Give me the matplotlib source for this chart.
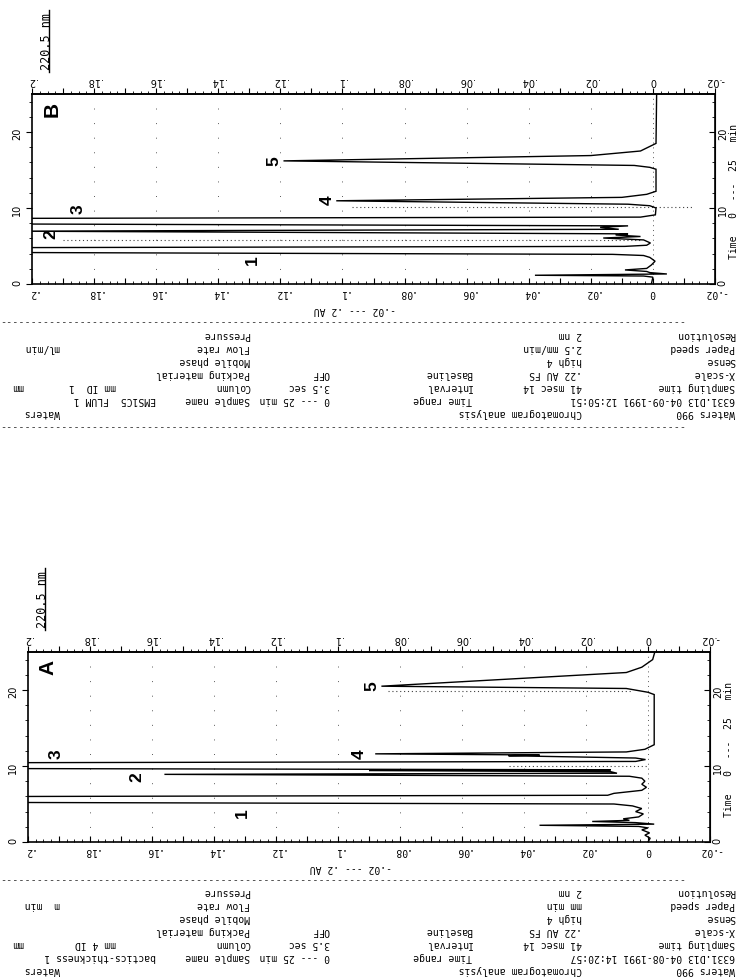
import numpy as np
import matplotlib.pyplot as plt
from matplotlib.ticker import MultipleLocator, FuncFormatter
from matplotlib.lines import Line2D

W, H = 739, 977

# ---------------- data ----------------
# panel B (upper) : time (min) / absorbance (AU)
B_time = [0.0, 0.9, 1.05, 1.15, 1.32, 1.5, 1.65, 1.85, 2.05, 2.5,
          3.0, 3.5, 3.75, 3.9, 4.2, 4.75, 4.95, 5.1, 5.4, 5.8,
          6.05, 6.25, 6.45, 6.6, 6.95, 7.2, 7.45, 7.65, 7.95, 8.6,
          8.8, 9.1, 10.0, 10.3, 10.5, 10.95, 11.4, 11.8, 12.2, 15.1,
          15.35, 15.6, 16.2, 16.9, 17.5, 18.5, 25.0]
B_au = [0.0005, 0.0, 0.003, 0.038, -0.0045, 0.001, 0.002, 0.009, 0.002, 0.0005,
        -0.0007, 0.001, 0.003, 0.013, 0.25, 0.25, 0.009, 0.002, 0.0008, 0.003,
        0.016, 0.004, 0.012, 0.008, 0.205, 0.011, 0.017, 0.008, 0.25, 0.25,
        0.004, -0.0008, -0.001, 0.001, 0.008, 0.102, 0.01, 0.002, -0.001, -0.001,
        0.001, 0.006, 0.119, 0.02, 0.004, -0.001, -0.0012]

# panel A (lower)
A_time = [0.0, 0.5, 0.9, 1.2, 1.6, 1.85, 2.05, 2.2, 2.35, 2.55,
          2.7, 2.85, 3.05, 3.3, 3.7, 4.0, 4.4, 4.75, 5.0, 5.25,
          5.95, 6.15, 6.4, 6.8, 7.2, 7.6, 8.0, 8.4, 8.65, 8.9,
          9.05, 9.25, 9.4, 9.5, 9.7, 10.4, 10.6, 10.85, 11.05, 11.35,
          11.45, 11.6, 11.85, 12.2, 12.8, 19.4, 19.7, 20.2, 20.5, 22.3,
          23.0, 24.0, 25.0]
A_au = [0.0, -0.0007, 0.001, -0.0005, 0.002, 0.0, 0.003, 0.035, -0.002, 0.004,
        0.018, 0.006, 0.008, 0.003, 0.0015, 0.004, 0.002, 0.005, 0.011, 0.25,
        0.25, 0.013, 0.011, 0.002, 0.0005, 0.002, 0.001, 0.002, 0.006, 0.156,
        0.01, 0.012, 0.09, 0.012, 0.25, 0.25, 0.004, 0.0008, 0.004, 0.045,
        0.035, 0.088, 0.007, 0.001, -0.002, -0.002, 0.0, 0.007, 0.086, 0.007,
        0.002, -0.0015, -0.0022]

peak_names = ['1', '2', '3', '4', '5']
B_label_t = [3.2, 6.5, 9.8, 11.0, 16.2]
B_label_au = [0.129, 0.194, 0.185, 0.105, 0.122]
A_label_t = [3.8, 8.6, 11.5, 11.6, 20.5]
A_label_au = [0.131, 0.165, 0.191, 0.093, 0.089]

# dotted peak marks printed by the integrator
B_mark_t = [5.8, 10.15]
B_mark_from = [0.19, 0.097]
B_mark_to = [0.004, -0.013]
A_mark_t = [19.9, 9.95]
A_mark_from = [0.084, 0.045]
A_mark_to = [0.005, 0.0]

# header block, rows in print order (the page is printed upside down,
# so the first row ends up at the bottom of each block)
B_rows = [
    ['Waters 990', 'Chromatogram analysis', '', '', '', '', '', 'Waters', ''],
    ['6331.D13 04-09-1991 12:50:51', '', 'Time range', '0 --- 25 min', 'Sample name',
     'EMS1C5  FLUM 1', '', '', ''],
    ['Sampling time', '41 msec 14', 'Interval', '3.5 sec', 'Column', '', 'mm ID  1', '', 'mm'],
    ['X-scale', '.22 AU FS', 'Baseline', 'OFF', 'Packing material', '', '', '', ''],
    ['Sense', 'high 4', '', '', 'Mobile phase', '', '', '', ''],
    ['Paper speed', '2.5 mm/min', '', '', 'Flow rate', '', '', 'ml/min', ''],
    ['Resolution', '2 nm', '', '', 'Pressure', '', '', '', ''],
]
A_rows = [
    ['Waters 990', 'Chromatogram analysis', '', '', '', '', '', 'Waters', ''],
    ['6331.D13 04-08-1991 14:20:57', '', 'Time range', '0 --- 25 min', 'Sample name',
     'bactics-thickness 1', '', '', ''],
    ['Sampling time', '41 msec 14', 'Interval', '3.5 sec', 'Column', '', 'mm 4 ID', '', 'mm'],
    ['X-scale', '.22 AU FS', 'Baseline', 'OFF', 'Packing material', '', '', '', ''],
    ['Sense', 'high 4', '', '', 'Mobile phase', '', '', '', ''],
    ['Paper speed', 'mm min', '', '', 'Flow rate', '', '', 'm  min', ''],
    ['Resolution', '2 nm', '', '', 'Pressure', '', '', '', ''],
]

# ---------------- layout ----------------
fig = plt.figure(figsize=(W / 100, H / 100), dpi=100)
mono = 'DejaVu Sans Mono'
col_x = [735, 582, 472, 330, 250, 156, 116, 60, 24]


def put(x, y, s, **kw):
    return fig.text(x / W, 1 - y / H, s, **kw)


def au_fmt(v, pos):
    k = int(round(v / 0.01))
    if k % 2:
        return ''
    if k == 0:
        return '0'
    s = ('%.2f' % (k / 100)).rstrip('0')
    return s.replace('0.', '.', 1)


def panel(left, right, top, bottom, t, au, lab_t, lab_au, mark_t, mark_a, mark_b,
          letter, rows, row0):
    ax = fig.add_axes([left / W, 1 - bottom / H, (right - left) / W, (bottom - top) / H])
    ax.set_xlim(0.2, -0.02)
    ax.set_ylim(0, 25)
    for sp in ax.spines.values():
        sp.set_linewidth(1.2)

    # dotted grid at the labelled AU values
    for g in np.arange(0.18, -0.001, -0.02):
        dens = (0, (1, 4)) if abs(g) < 1e-6 else (0, (1, 14))
        ax.axvline(g, color='0.35', lw=0.7, ls=dens, zorder=1)
    for mt, ma, mb in zip(mark_t, mark_a, mark_b):
        ax.plot([ma, mb], [mt, mt], color='0.25', lw=0.8, ls=(0, (1, 2.5)), zorder=1)

    ax.plot(au, t, color='black', lw=1.0, solid_joinstyle='miter', zorder=3)

    for name, lt, la in zip(peak_names, lab_t, lab_au):
        ax.text(la, lt, name, rotation=90, ha='center', va='center',
                family='Liberation Sans', weight='bold', size=12.5)
    ax.text(0.2 - 0.0065, 23.0, letter, rotation=90, ha='center', va='center',
            family='Liberation Sans', weight='bold', size=15)

    # AU axis: bottom ticks point into the box, top ticks point outwards
    ax.xaxis.set_major_locator(MultipleLocator(0.01))
    ax.xaxis.set_minor_locator(MultipleLocator(0.0025))
    ax.xaxis.set_major_formatter(FuncFormatter(au_fmt))
    ax.tick_params(axis='x', which='major', direction='in', length=4, width=0.8,
                   labelrotation=180, labelsize=7, pad=3)
    ax.tick_params(axis='x', which='minor', direction='in', length=2, width=0.6)
    for lbl in ax.get_xticklabels():
        lbl.set_family(mono)
    sx = ax.secondary_xaxis('top')
    sx.xaxis.set_major_locator(MultipleLocator(0.01))
    sx.xaxis.set_minor_locator(MultipleLocator(0.0025))
    sx.xaxis.set_major_formatter(FuncFormatter(au_fmt))
    sx.tick_params(axis='x', which='major', direction='out', length=4, width=0.8,
                   labelrotation=180, labelsize=7, pad=2)
    sx.tick_params(axis='x', which='minor', direction='out', length=2, width=0.6)
    sx.spines['top'].set_linewidth(1.2)

    # time axis
    ax.yaxis.set_major_locator(MultipleLocator(10))
    ax.yaxis.set_minor_locator(MultipleLocator(2))
    ax.yaxis.set_major_formatter(FuncFormatter(lambda v, p: '%d' % v))
    ax.tick_params(axis='y', which='major', direction='out', length=4, width=0.8,
                   labelrotation=90, labelsize=7, pad=3)
    ax.tick_params(axis='y', which='minor', direction='out', length=2.5, width=0.6)
    sy = ax.secondary_yaxis('right')
    sy.yaxis.set_major_locator(MultipleLocator(10))
    sy.yaxis.set_minor_locator(MultipleLocator(2))
    sy.yaxis.set_major_formatter(FuncFormatter(lambda v, p: '%d' % v))
    sy.tick_params(axis='y', which='major', direction='in', length=4, width=0.8,
                   labelrotation=90, labelsize=7, pad=2)
    sy.tick_params(axis='y', which='minor', direction='in', length=2.5, width=0.6)

    # texts around the plot box
    put(left + 14, top - 52, '220.5 nm', rotation=90, ha='center', va='center',
        family=mono, size=8.5)
    fig.add_artist(Line2D([(left + 17) / W] * 2, [1 - (top - 84) / H, 1 - (top - 22) / H],
                          color='black', lw=1.0))
    put(right + 19, (top + bottom) / 2 + 2, 'Time   0  ---  25   min', rotation=90,
        ha='center', va='center', family=mono, size=7)
    put(left + 323, bottom + 26, '-.02 --- .2 AU', rotation=180, ha='center',
        va='center', family=mono, size=7)

    # header table (upside down)
    put(0, bottom + 38, '-' * 112, ha='left', va='center', family=mono, size=7.3,
        color='0.2')
    if row0 + 96 < H:
        put(0, row0 + 14, '-' * 112, ha='left', va='center', family=mono, size=7.3,
            color='0.2')
    for i, row in enumerate(rows):
        y = row0 - 13 * i
        for cx, s in zip(col_x, row):
            if s:
                put(cx, y, s, rotation=180, rotation_mode='anchor', ha='left',
                    va='center', family=mono, size=7.0)
    return ax


panel(32, 715, 94, 284, B_time, B_au, B_label_t, B_label_au,
      B_mark_t, B_mark_from, B_mark_to, 'B', B_rows, 413)
panel(28, 710, 652, 842, A_time, A_au, A_label_t, A_label_au,
      A_mark_t, A_mark_from, A_mark_to, 'A', A_rows, 970)

fig.savefig('out.png', dpi=100)
